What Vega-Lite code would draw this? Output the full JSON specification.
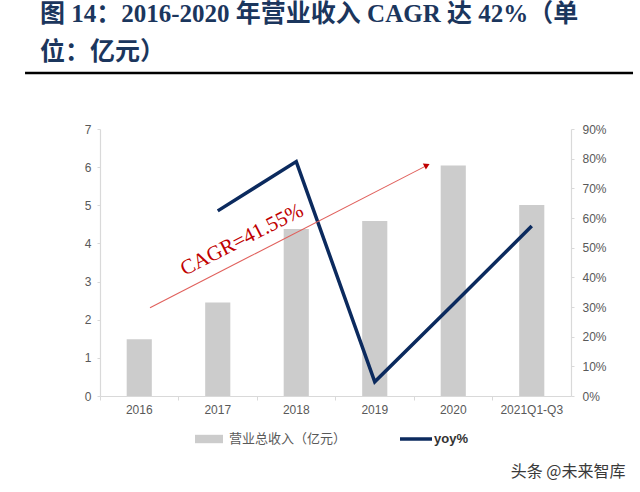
{
  "$schema": "https://vega.github.io/schema/vega-lite/v6.json",
  "width": 471,
  "height": 267,
  "autosize": {"type": "none"},
  "padding": {"left": 100, "top": 129, "right": 69, "bottom": 96},
  "background": "white",
  "config": {"view": {"stroke": null}, "font": "Liberation Sans"},
  "title": {
    "text": ["图 14：2016-2020 年营业收入 CAGR 达 42%（单", "位：亿元）"],
    "anchor": "start",
    "frame": "group",
    "dx": -60,
    "offset": 7,
    "font": "Liberation Serif, Noto Sans CJK SC",
    "fontSize": 25,
    "fontWeight": "bold",
    "color": "#1b365d",
    "lineHeight": 38
  },
  "resolve": {"scale": {"x": "independent", "y": "independent", "fill": "independent", "stroke": "independent"}},
  "layer": [
    {
      "data": {"values": [
        {"year": "2016", "rev": 1.49},
        {"year": "2017", "rev": 2.45},
        {"year": "2018", "rev": 4.38},
        {"year": "2019", "rev": 4.59},
        {"year": "2020", "rev": 6.04},
        {"year": "2021Q1-Q3", "rev": 5.01}
      ]},
      "mark": {"type": "bar", "clip": false},
      "encoding": {
        "x": {
          "field": "year", "type": "nominal", "sort": null,
          "scale": {"domain": ["2016", "2017", "2018", "2019", "2020", "2021Q1-Q3"], "paddingInner": 0.68, "paddingOuter": 0.34},
          "axis": {
            "title": "头条 @未来智库", "titleX": 525, "titleY": 80, "titleAlign": "right", "titleAnchor": null,
            "titleBaseline": "alphabetic", "titleFont": "Noto Sans CJK SC", "titleFontSize": 16,
            "titleFontWeight": "normal", "titleColor": "#3a3a3a",
            "labelAngle": 0, "labelFontSize": 12, "labelColor": "#595959", "labelPadding": 8,
            "ticks": false, "domainColor": "#d9d9d9", "domainWidth": 1.2, "grid": false
          }
        },
        "y": {
          "field": "rev", "type": "quantitative",
          "scale": {"domain": [0, 7], "nice": false},
          "axis": {
            "title": null, "values": [0, 1, 2, 3, 4, 5, 6, 7], "format": "d",
            "labelFontSize": 12, "labelColor": "#595959", "labelPadding": 6,
            "tickSize": 3, "tickColor": "#d9d9d9", "domainColor": "#d9d9d9", "domainWidth": 1.2, "grid": false
          }
        },
        "fill": {
          "datum": "营业总收入（亿元）",
          "scale": {"range": ["#cccccc"]},
          "legend": {
            "orient": "none", "legendX": 95, "legendY": 296, "title": null, "padding": 0,
            "symbolType": "M-1,-0.3H1V0.3H-1Z", "symbolSize": 784, "symbolStrokeWidth": 0,
            "labelFont": "Noto Sans CJK SC", "labelFontSize": 13, "labelColor": "#595959", "labelOffset": 6
          }
        }
      }
    },
    {
      "data": {"values": [
        {"year": "2017", "yoy": 0.624},
        {"year": "2018", "yoy": 0.79},
        {"year": "2019", "yoy": 0.048},
        {"year": "2020", "yoy": 0.309},
        {"year": "2021Q1-Q3", "yoy": 0.573}
      ]},
      "mark": {"type": "line", "strokeWidth": 3.5, "strokeJoin": "miter", "clip": false},
      "encoding": {
        "x": {
          "field": "year", "type": "nominal", "sort": null,
          "scale": {"type": "band", "domain": ["2016", "2017", "2018", "2019", "2020", "2021Q1-Q3"], "paddingInner": 0, "paddingOuter": 0},
          "axis": {
            "orient": "bottom", "title": null, "labels": false, "domain": false, "grid": false,
            "ticks": true, "tickSize": 4, "tickColor": "#d9d9d9", "bandPosition": 0
          }
        },
        "y": {
          "field": "yoy", "type": "quantitative",
          "scale": {"domain": [0, 0.9], "nice": false},
          "axis": {
            "orient": "right", "title": null, "values": [0, 0.1, 0.2, 0.3, 0.4, 0.5, 0.6, 0.7, 0.8, 0.9], "format": ".0%",
            "labelFontSize": 12, "labelColor": "#595959", "labelPadding": 8,
            "tickSize": 3, "tickColor": "#d9d9d9", "domainColor": "#d9d9d9", "domainWidth": 1.2, "grid": false
          }
        },
        "stroke": {
          "datum": "yoy%",
          "scale": {"range": ["#0b2a5e"]},
          "legend": {
            "orient": "none", "legendX": 298, "legendY": 292, "title": null, "padding": 0,
            "symbolType": "stroke", "symbolSize": 1024, "symbolStrokeWidth": 3.5,
            "labelFont": "Liberation Sans", "labelFontSize": 13, "labelFontWeight": "bold",
            "labelColor": "#333333", "labelOffset": 0
          }
        }
      }
    },
    {
      "layer": [
        {
          "data": {"values": [{"u0": -0.955, "u1": 6.79, "v": 8.47}]},
          "mark": {"type": "rule", "color": "#000000", "strokeWidth": 2.4, "clip": false},
          "encoding": {
            "x": {"field": "u0", "type": "quantitative", "scale": {"domain": [0, 6], "nice": false, "zero": false}, "axis": null},
            "x2": {"field": "u1"},
            "y": {"field": "v", "type": "quantitative", "scale": {"domain": [0, 7], "nice": false, "zero": false}, "axis": null}
          }
        },
        {
          "data": {"values": [{"u0": 0.637, "v0": 2.315, "u1": 4.16, "v1": 6.04}]},
          "mark": {"type": "rule", "color": "#e0605c", "strokeWidth": 1.1, "clip": false},
          "encoding": {
            "x": {"field": "u0", "type": "quantitative", "scale": {"domain": [0, 6], "nice": false, "zero": false}, "axis": null},
            "x2": {"field": "u1"},
            "y": {"field": "v0", "type": "quantitative", "scale": {"domain": [0, 7], "nice": false, "zero": false}, "axis": null},
            "y2": {"field": "v1"}
          }
        },
        {
          "data": {"values": [{"u": 4.165, "v": 6.05}]},
          "mark": {"type": "point", "shape": "triangle-right", "filled": true, "color": "#c00000", "size": 45, "angle": -27, "opacity": 1, "clip": false},
          "encoding": {
            "x": {"field": "u", "type": "quantitative", "scale": {"domain": [0, 6], "nice": false, "zero": false}, "axis": null},
            "y": {"field": "v", "type": "quantitative", "scale": {"domain": [0, 7], "nice": false, "zero": false}, "axis": null}
          }
        },
        {
          "data": {"values": [{"u": 1.81, "v": 4.09, "label": "CAGR=41.55%"}]},
          "mark": {"type": "text", "font": "Liberation Serif", "fontSize": 21, "color": "#c00000", "angle": -27, "align": "center", "baseline": "middle", "clip": false},
          "encoding": {
            "x": {"field": "u", "type": "quantitative", "scale": {"domain": [0, 6], "nice": false, "zero": false}, "axis": null},
            "y": {"field": "v", "type": "quantitative", "scale": {"domain": [0, 7], "nice": false, "zero": false}, "axis": null},
            "text": {"field": "label"}
          }
        }
      ]
    }
  ]
}
